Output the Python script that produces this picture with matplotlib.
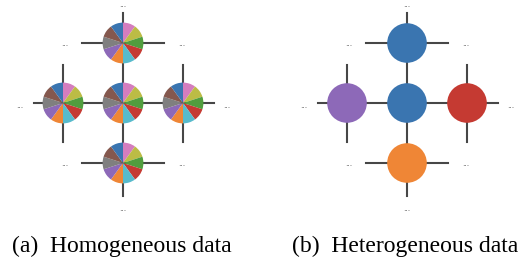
import matplotlib.pyplot as plt

# node positions on the grid (x, y)
nodes = {'c': (0, 0), 't': (0, 1), 'b': (0, -1), 'l': (-1, 0), 'r': (1, 0)}
edges = [('c', 't'), ('c', 'b'), ('c', 'l'), ('c', 'r')]
# dangling links going off to the rest of the grid: (node, dx, dy)
stubs = [('t', 0, 0.50), ('t', -0.68, 0), ('t', 0.68, 0),
         ('b', 0, -0.55), ('b', -0.68, 0), ('b', 0.68, 0),
         ('l', 0, 0.63), ('l', 0, -0.65), ('l', -0.48, 0),
         ('r', 0, 0.63), ('r', 0, -0.65), ('r', 0.52, 0)]
ellipsis_pos = [(0, 1.60), (-0.98, 0.95), (0.98, 0.95), (-1.73, -0.09),
                (1.73, -0.09), (-0.98, -1.05), (0.98, -1.05), (0, -1.80)]

pie_sizes = [1, 1, 1, 1, 1, 1, 1, 1, 1, 1]
pie_colors = ['#d57dbe', '#bcbc45', '#519e3e', '#c53a32', '#58bbcc',
              '#ef8636', '#8d69b8', '#7f7f7f', '#84584e', '#3a75b0']
node_colors = {'c': '#3a75b0', 't': '#3a75b0', 'b': '#ef8636',
               'l': '#8d69b8', 'r': '#c53a32'}
captions = ['(a)  Homogeneous data', '(b)  Heterogeneous data']

W, H, U = 523, 264, 60.0
fig = plt.figure(figsize=(W / 100, H / 100), dpi=100)


def make_ax(left_px, width_px, cx, cy):
    ax = fig.add_axes([left_px / W, 0, width_px / W, 1])
    ax.set_xlim(-(cx - left_px) / U, (left_px + width_px - cx) / U)
    ax.set_ylim(-(H - cy) / U, cy / U)
    ax.set_axis_off()
    return ax


def draw_graph(ax):
    for a, b in edges:
        (x0, y0), (x1, y1) = nodes[a], nodes[b]
        ax.plot([x0, x1], [y0, y1], color='#474747', lw=1.5, zorder=1)
    for n, dx, dy in stubs:
        x, y = nodes[n]
        ax.plot([x, x + dx], [y, y + dy], color='#474747', lw=1.5, zorder=1)
    for x, y in ellipsis_pos:
        ax.text(x, y, '...', ha='center', va='baseline', fontsize=5.5,
                color='#333333')


ax1 = make_ax(0, 262, 123, 103)
draw_graph(ax1)
for n, (x, y) in nodes.items():
    ax1.pie(pie_sizes, colors=pie_colors, center=(x, y), radius=0.34,
            startangle=90, counterclock=False, frame=True,
            wedgeprops=dict(linewidth=0, zorder=3))
ax1.set_xlim(-123 / U, 139 / U)
ax1.set_ylim(-161 / U, 103 / U)
ax1.set_aspect('equal')
ax1.set_axis_off()

ax2 = make_ax(262, 261, 407, 103)
draw_graph(ax2)
for n, (x, y) in nodes.items():
    ax2.add_patch(plt.Circle((x, y), 0.33, color=node_colors[n], lw=0, zorder=3))
ax2.set_aspect('equal')

fig.text(12 / W, 12 / H, captions[0], ha='left', va='baseline',
         fontsize=17, family='Liberation Serif')
fig.text(292 / W, 12 / H, captions[1], ha='left', va='baseline',
         fontsize=17, family='Liberation Serif')

fig.savefig('out.png', dpi=100)
